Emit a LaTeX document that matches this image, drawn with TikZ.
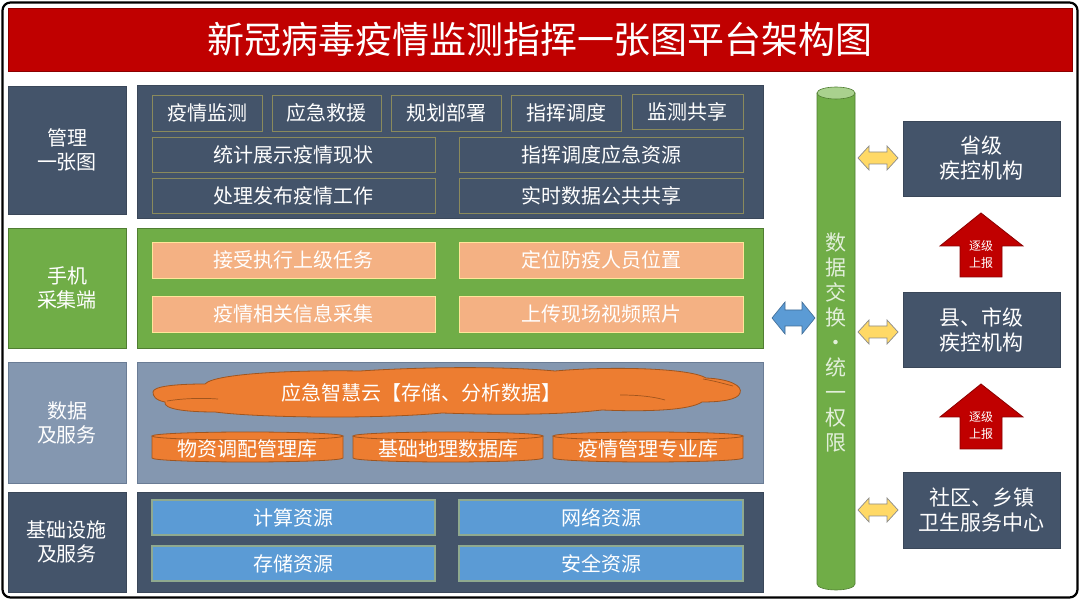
\documentclass[tikz,border=0pt]{standalone}
\usepackage{fontspec}
\setmainfont{Noto Sans CJK SC}
\definecolor{navy}{HTML}{44546A}
\definecolor{navyedge}{HTML}{3A4759}
\definecolor{khaki}{HTML}{8A8A5C}
\definecolor{titlered}{HTML}{C00000}
\definecolor{pgreen}{HTML}{70AD47}
\definecolor{pgreenedge}{HTML}{507E32}
\definecolor{salmon}{HTML}{F4B183}
\definecolor{salmonedge}{HTML}{FFE699}
\definecolor{steel}{HTML}{8497B0}
\definecolor{steeledge}{HTML}{6A7C95}
\definecolor{orng}{HTML}{ED7D31}
\definecolor{orngedge}{HTML}{A0551E}
\definecolor{skyb}{HTML}{5B9BD5}
\definecolor{skybedge}{HTML}{8FA98F}
\definecolor{lgreen}{HTML}{A9D18E}
\definecolor{vtext}{HTML}{E2EFDA}
\definecolor{ylw}{HTML}{FFD966}
\definecolor{ylwedge}{HTML}{8C8C8C}
\definecolor{darkred}{HTML}{8B0000}
\newcommand{\bx}[7]{\node[#2, inner sep=0pt, outer sep=0pt,
  minimum width={(#5-#3)*1pt}, minimum height={(#6-#4)*1pt}]
  (#1) at ({(#3+#5)/2},{(#4+#6)/2}) {#7};}
\newcommand{\dbcyl}[4]{% name, x1, x2, text
  \pgfmathsetmacro{\rxx}{(#3-#2)/2}
  \fill[orng] (#2,436) -- (#2,458) arc[start angle=180,end angle=360,x radius=\rxx pt,y radius=4pt] -- (#3,436) arc[start angle=0,end angle=180,x radius=\rxx pt,y radius=4pt] -- cycle;
  \draw[orngedge, line width=0.8pt] (#2,436) -- (#2,458) arc[start angle=180,end angle=360,x radius=\rxx pt,y radius=4pt] -- (#3,436);
  \draw[orngedge, line width=0.8pt] ({(#2+#3)/2},436) ellipse[x radius=\rxx pt,y radius=4pt];
  \node[txt] (#1) at ({(#2+#3)/2},449) {#4};}
\newcommand{\dblarrow}[8]{% name, cx, cy, halflen, headhalf, shafthalf, headlen, style
  \path[#8] ({#2-#4},#3) -- ({#2-#4+#7},{#3-#5}) -- ({#2-#4+#7},{#3-#6}) -- ({#2+#4-#7},{#3-#6})
    -- ({#2+#4-#7},{#3-#5}) -- ({#2+#4},#3) -- ({#2+#4-#7},{#3+#5}) -- ({#2+#4-#7},{#3+#6})
    -- ({#2-#4+#7},{#3+#6}) -- ({#2-#4+#7},{#3+#5}) -- cycle;
  \coordinate (#1) at (#2,#3);}
\newcommand{\redup}[3]{% name, tipy, bottomy
  \path[fill=titlered, draw=darkred, line width=0.8pt] (981,#2) -- (1023,{#2+33}) -- (1002,{#2+33}) -- (1002,#3)
     -- (960,#3) -- (960,{#2+33}) -- (940,{#2+33}) -- cycle;
  \node[font=\fontsize{12}{17}\selectfont, text=white, align=center] (#1) at (981,{#2+41}) {逐级\\上报};}
\tikzset{
  txt/.style={text=white, font=\fontsize{20}{24}\selectfont, align=center},
  lbl/.style={txt, fill=navy, draw=navyedge, line width=0.6pt},
  panel/.style={draw=navyedge, line width=0.8pt},
  navybox/.style={txt, fill=navy, draw=khaki, line width=0.9pt},
  salmonbox/.style={txt, fill=salmon, draw=salmonedge, line width=0.9pt},
  bluebox/.style={txt, fill=skyb, draw=skybedge, line width=1.2pt},
  rbox/.style={txt, fill=navy, draw=navyedge, line width=0.6pt, font=\fontsize{21}{25}\selectfont},
  crease/.style={orngedge, line width=0.7pt},
}
\begin{document}
\begin{tikzpicture}[x=1pt,y=-1pt]
\useasboundingbox (0,0) rectangle (1080,601);
\fill[white] (0,0) rectangle (1080,601);
\draw[black, line width=2.2pt, rounded corners=8pt] (2.5,2.5) rectangle (1077.5,597.5);
% title
\bx{title}{fill=titlered, draw=darkred, line width=0.8pt, text=white, font=\fontsize{37}{44}\selectfont}{8}{8}{1072}{71}{新冠病毒疫情监测指挥一张图平台架构图}
% left labels
\bx{l1}{lbl}{8}{86}{126}{214}{管理\\一张图}
\bx{l2}{lbl, fill=pgreen, draw=pgreenedge}{8}{228}{126}{348}{手机\\采集端}
\bx{l3}{lbl, fill=steel, draw=steeledge}{8}{362}{126}{483}{数据\\及服务}
\bx{l4}{lbl}{8}{492}{126}{592}{基础设施\\及服务}
% panels
\bx{p1}{panel, fill=navy}{137}{85}{763}{218}{}
\bx{p2}{panel, fill=pgreen, draw=pgreenedge}{137}{228}{763}{348}{}
\bx{p3}{panel, fill=steel, draw=steeledge}{137}{362}{763}{483}{}
\bx{p4}{panel, fill=navy}{137}{492}{763}{592}{}
% row 1
\bx{a1}{navybox}{152}{95}{262}{131}{疫情监测}
\bx{a2}{navybox}{272}{95}{381}{131}{应急救援}
\bx{a3}{navybox}{391}{95}{501}{131}{规划部署}
\bx{a4}{navybox}{511}{95}{621}{131}{指挥调度}
\bx{a5}{navybox}{632}{94}{743}{129}{监测共享}
\bx{b1}{navybox}{152}{137}{435}{172}{统计展示疫情现状}
\bx{b2}{navybox}{459}{137}{743}{172}{指挥调度应急资源}
\bx{c1}{navybox}{152}{178}{435}{213}{处理发布疫情工作}
\bx{c2}{navybox}{459}{178}{743}{213}{实时数据公共共享}
% row 2
\bx{d1}{salmonbox}{152}{242}{435}{278}{接受执行上级任务}
\bx{d2}{salmonbox}{459}{242}{743}{278}{定位防疫人员位置}
\bx{e1}{salmonbox}{152}{296}{435}{332}{疫情相关信息采集}
\bx{e2}{salmonbox}{459}{296}{743}{332}{上传现场视频照片}
% row 3: cloud
\path[fill=orng, draw=orngedge, line width=0.8pt]
  (153,392) .. controls (153,386) and (178,384) .. (205,384)
  .. controls (215,373) and (300,370) .. (360,371)
  .. controls (420,367) and (500,366) .. (555,371)
  .. controls (610,366) and (690,368) .. (706,378)
  .. controls (730,379) and (743,386) .. (740,393)
  .. controls (738,400) and (720,402) .. (702,402)
  .. controls (690,410) and (650,412) .. (602,410)
  .. controls (560,415) and (500,415) .. (442,413)
  .. controls (380,419) and (260,418) .. (215,412)
  .. controls (185,412) and (163,409) .. (165,402)
  .. controls (155,400) and (153,396) .. (153,392) -- cycle;
\draw[crease] (167,401) .. controls (185,398) and (205,398) .. (218,399);
\draw[crease] (620,395) .. controls (640,395) and (655,397) .. (665,400);
\draw[crease] (703,379) .. controls (715,381) and (725,384) .. (733,386);
\coordinate (cloud) at (446,393);
\node[txt] (cloudtxt) at (421,393) {应急智慧云【存储、分析数据】};
\dbcyl{f1}{152}{343}{物资调配管理库}
\dbcyl{f2}{353}{543}{基础地理数据库}
\dbcyl{f3}{553}{743}{疫情管理专业库}
% row 4
\bx{g1}{bluebox}{152}{500}{435}{535}{计算资源}
\bx{g2}{bluebox}{459}{500}{743}{535}{网络资源}
\bx{h1}{bluebox}{152}{546}{435}{581}{存储资源}
\bx{h2}{bluebox}{459}{546}{743}{581}{安全资源}
% green data-exchange cylinder
\fill[pgreen] (817,93) -- (817,584) arc[start angle=180,end angle=360,x radius=19pt,y radius=6pt] -- (855,93) -- cycle;
\draw[pgreenedge, line width=0.6pt] (817,93) -- (817,584) arc[start angle=180,end angle=360,x radius=19pt,y radius=6pt] -- (855,93);
\fill[lgreen, draw=pgreenedge, line width=0.6pt] (836,93) ellipse[x radius=19pt, y radius=6pt];
\node[text=vtext, font=\fontsize{21}{24.9}\selectfont, align=center] (bus) at (836,342.5)
  {数\\据\\交\\换\\·\\统\\一\\权\\限};
% arrows
\dblarrow{ab}{793.5}{318}{21.5}{16}{8}{13}{fill=skyb, draw=skyb!70!black, line width=0.6pt}
\dblarrow{ay1}{878}{158}{20}{12}{6}{11}{fill=ylw, draw=ylwedge, line width=0.7pt}
\dblarrow{ay2}{878}{332}{20}{12}{6}{11}{fill=ylw, draw=ylwedge, line width=0.7pt}
\dblarrow{ay3}{878}{510}{20}{12}{6}{11}{fill=ylw, draw=ylwedge, line width=0.7pt}
% right boxes
\bx{r1}{rbox}{903}{121}{1060}{196}{省级\\疾控机构}
\bx{r2}{rbox}{903}{292}{1060}{367}{县、市级\\疾控机构}
\bx{r3}{rbox}{903}{472}{1060}{548}{社区、乡镇\\卫生服务中心}
\redup{u1}{213}{277}
\redup{u2}{384}{449}
\end{tikzpicture}
\end{document}
